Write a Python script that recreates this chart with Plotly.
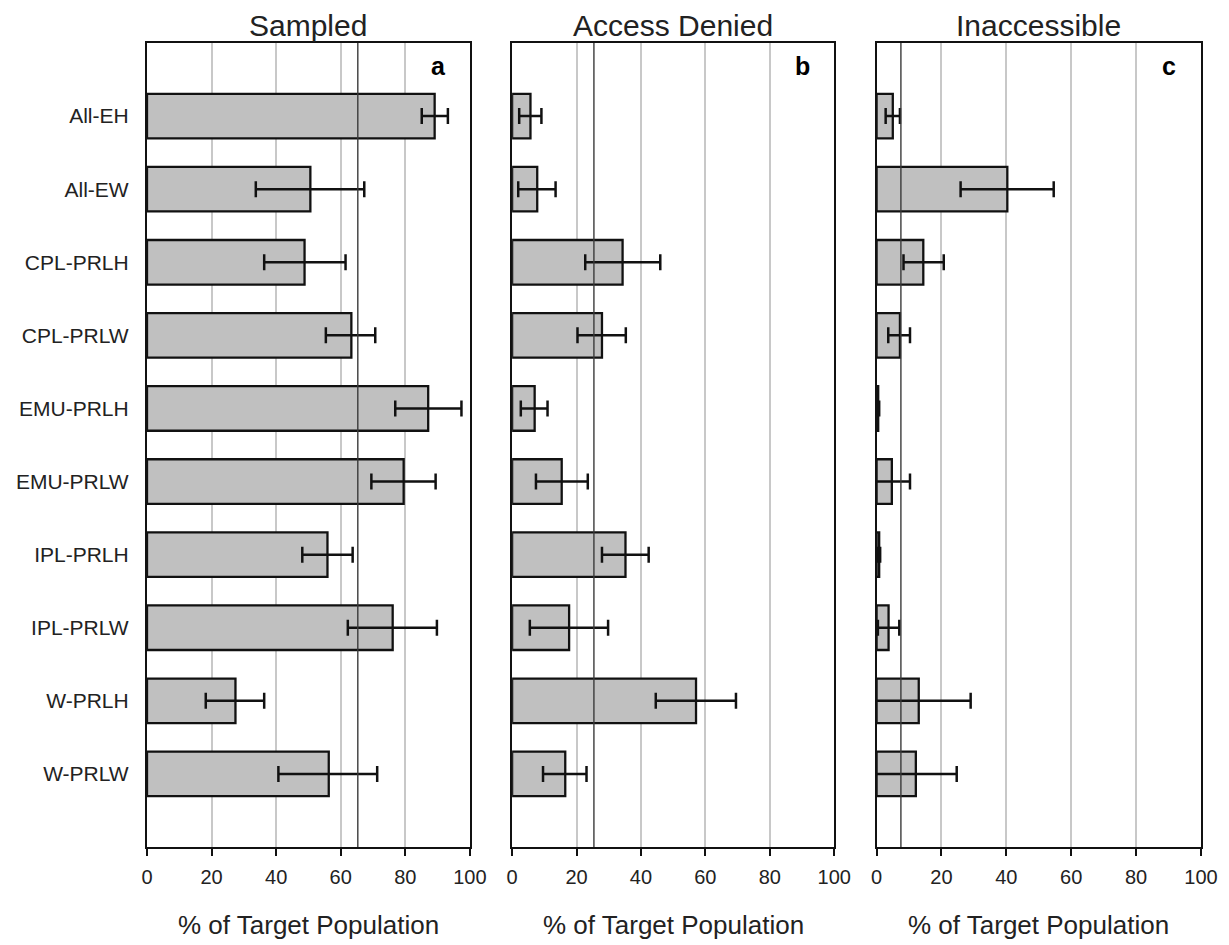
import plotly.graph_objects as go
from plotly.subplots import make_subplots

categories = ["All-EH", "All-EW", "CPL-PRLH", "CPL-PRLW", "EMU-PRLH",
              "EMU-PRLW", "IPL-PRLH", "IPL-PRLW", "W-PRLH", "W-PRLW"]

panel_titles = ["Sampled", "Access Denied", "Inaccessible"]
panel_letters = ["a", "b", "c"]
x_ticks = [0, 20, 40, 60, 80, 100]
x_title = "% of Target Population"

sampled = [89.1, 50.6, 48.8, 63.3, 87.1, 79.5, 55.9, 76.1, 27.4, 56.3]
sampled_lo = [85.1, 33.7, 36.3, 55.4, 76.9, 69.5, 48.1, 62.2, 18.2, 40.7]
sampled_hi = [93.2, 67.3, 61.5, 70.7, 97.4, 89.4, 63.7, 89.8, 36.3, 71.3]

denied = [5.7, 7.8, 34.3, 27.9, 7.0, 15.4, 35.2, 17.7, 57.1, 16.5]
denied_lo = [2.2, 1.9, 22.7, 20.3, 2.7, 7.4, 27.9, 5.5, 44.6, 9.6]
denied_hi = [9.1, 13.5, 46.0, 35.3, 11.0, 23.5, 42.4, 29.8, 69.5, 23.1]

inaccessible = [5.0, 40.3, 14.4, 7.2, 0.5, 4.7, 0.8, 3.7, 13.0, 12.1]
inaccessible_lo = [2.8, 25.9, 8.3, 3.6, 0.2, -0.9, 0.5, 0.4, -3.0, -0.5]
inaccessible_hi = [7.2, 54.6, 20.7, 10.3, 0.8, 10.3, 1.1, 7.0, 29.0, 24.7]

reference_lines = [65.3, 25.4, 7.5]

panels = [
    (sampled, sampled_lo, sampled_hi),
    (denied, denied_lo, denied_hi),
    (inaccessible, inaccessible_lo, inaccessible_hi),
]

FONT = "Liberation Sans, Arial, sans-serif"
W, H = 1229, 945
L, R, T, B = 147.3, 1229 - 1201, 43.3, 945 - 847

fig = make_subplots(rows=1, cols=3, shared_yaxes=False, horizontal_spacing=0.04)

domains = [[0.0, 0.3063], [0.3464, 0.652], [0.6922, 1.0]]

for i, (vals, lo, hi) in enumerate(panels):
    plus = [h - v for v, h in zip(vals, hi)]
    minus = [v - l for v, l in zip(vals, lo)]
    fig.add_trace(go.Bar(
        x=vals, y=categories, orientation="h", width=0.61,
        marker=dict(color="#c0c0c0", line=dict(color="#111111", width=2.3)),
        error_x=dict(type="data", symmetric=False, array=plus, arrayminus=minus,
                     color="#111111", thickness=2.5, width=8),
        showlegend=False, hoverinfo="x+y",
    ), row=1, col=i + 1)

    axn = "" if i == 0 else str(i + 1)
    fig.update_layout(**{
        f"xaxis{axn}": dict(
            domain=domains[i], range=[0, 100], tickvals=x_ticks,
            showgrid=True, gridcolor="#c8c8c8", gridwidth=1.5,
            showline=True, linecolor="#111111", linewidth=2.2, mirror=True,
            ticks="outside", ticklen=7, tickwidth=2, tickcolor="#111111",
            ticklabelstandoff=4,
            tickfont=dict(family=FONT, size=20, color="#222222"),
            zeroline=False, fixedrange=True,
        ),
        f"yaxis{axn}": dict(
            type="category", categoryorder="array", categoryarray=categories,
            range=[10, -1], showgrid=False, zeroline=False,
            showline=True, linecolor="#111111", linewidth=2.2, mirror=True,
            ticks="", showticklabels=(i == 0), ticklabelstandoff=12,
            tickfont=dict(family=FONT, size=21, color="#222222"),
            fixedrange=True,
        ),
    })

    xref = "x" if i == 0 else f"x{i + 1}"
    yref = "y" if i == 0 else f"y{i + 1}"
    fig.add_shape(type="line", xref=xref, yref=f"{yref} domain",
                  x0=reference_lines[i], x1=reference_lines[i], y0=0, y1=1,
                  line=dict(color="#3a3a3a", width=1.4), layer="above")

    xc = (domains[i][0] + domains[i][1]) / 2
    fig.add_annotation(text=panel_titles[i], xref="paper", yref="paper",
                       x=xc, y=1.022, xanchor="center", yanchor="middle",
                       showarrow=False, font=dict(family=FONT, size=30, color="#222222"))
    fig.add_annotation(text=x_title, xref="paper", yref="paper",
                       x=xc, y=-0.0975, xanchor="center", yanchor="middle",
                       showarrow=False, font=dict(family=FONT, size=26, color="#222222"))
    fig.add_annotation(text=f"<b>{panel_letters[i]}</b>", xref=f"{xref} domain",
                       yref=f"{yref} domain", x=0.902, y=0.971,
                       xanchor="center", yanchor="middle", showarrow=False,
                       font=dict(family=FONT, size=25, color="#000000"))

fig.update_layout(
    width=W, height=H, autosize=False,
    margin=dict(l=L, r=R, t=T, b=B, pad=0),
    paper_bgcolor="white", plot_bgcolor="white",
    bargap=0.39,
)

fig.write_html("out.html")
